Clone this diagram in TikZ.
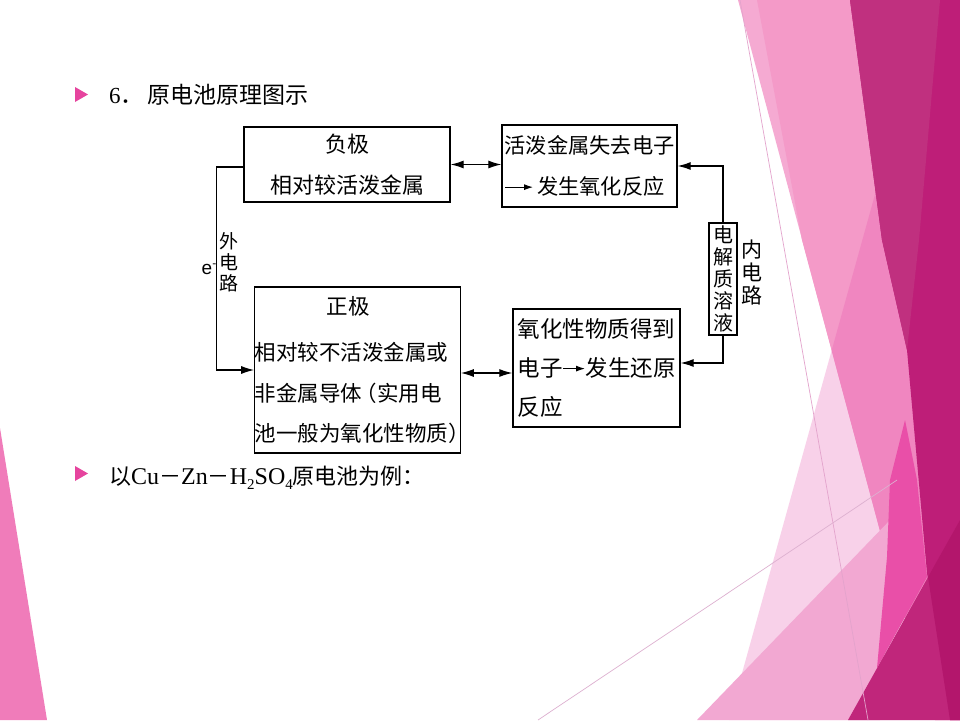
\documentclass[tikz,border=0pt]{standalone}
\usepackage{fontspec}
\setmainfont{Liberation Serif}
\newfontfamily\cjk{Noto Sans CJK SC}
\newfontfamily\lsans{Liberation Sans}
\usetikzlibrary{arrows.meta,calc}
\definecolor{pinklight}{HTML}{F5AAD2}
\definecolor{pinkband}{HTML}{F49AC8}
\definecolor{ovcol}{RGB}{229,80,170}
\definecolor{magA}{HTML}{C0307F}
\definecolor{magB}{HTML}{BE1E78}
\definecolor{hotpink}{HTML}{E94FA8}
\definecolor{triA}{HTML}{F2A8D2}
\definecolor{botA}{HTML}{C0267B}
\definecolor{botB}{HTML}{B3166C}
\definecolor{thinA}{HTML}{DDB0D0}
\definecolor{thinB}{HTML}{E3A3CC}
\definecolor{leftpink}{HTML}{F07CBA}
\definecolor{bullet}{HTML}{E6449E}
\newcommand\inarr[1]{\tikz[baseline=-0.35em]\draw[line width=1pt,-{Latex[length=9pt,width=6pt]}] (0pt,0pt) -- (#1,0pt);}
\newcommand\lpar{\makebox[0.7em][r]{（}}
\newcommand\rpar{\makebox[0.55em][l]{）}}
\begin{document}
\begin{tikzpicture}[x=1pt,y=-1pt,
  box/.style={draw=black,line width=1.3pt,inner sep=0pt,fill=white},
  arr/.style={line width=1.2pt,-{Latex[length=13pt,width=8pt]}},
  darr/.style={line width=1.2pt,{Latex[length=13pt,width=8pt]}-{Latex[length=13pt,width=8pt]}},
  cn/.style={font=\cjk\fontsize{#1}{41pt}\selectfont},
  cn/.default={22pt}
]
\useasboundingbox (0,0) rectangle (960,720);
\fill[white] (0,0) rectangle (960,720);
% background decoration
\fill[pinklight] (738,0) -- (960,0) -- (960,720) -- (935,720) -- (887,557) -- cycle;
\fill[pinkband] (757,0) -- (960,0) -- (960,720) -- (935,720) -- (887,557) -- (802,240) -- cycle;
\fill[ovcol,opacity=0.26] (929,0) -- (960,0) -- (960,720) -- (729,720) -- cycle;
\fill[magB] (850,0) -- (960,0) -- (960,720) -- (950,720) -- (927,573) -- (907,350) -- (882,240) -- cycle;
\fill[magA] (850,0) -- (940,0) -- (919,240) -- (907,350) -- (882,240) -- cycle;
\fill[triA] (697,720) -- (893,517) -- (880,720) -- cycle;
\fill[hotpink] (905,420) -- (917,480) -- (927,577) -- (877,668) -- (887,557) -- (890,480) -- cycle;
\fill[botA] (848,720) -- (960,520) -- (960,720) -- cycle;
\fill[botB] (928,577) -- (960,520) -- (960,720) -- (950,720) -- cycle;
\draw[thinA,line width=0.7pt] (538,720) -- (897,480);
\draw[thinB,line width=0.7pt] (740,0) -- (868,720);
\fill[leftpink] (0,428) -- (47,720) -- (0,720) -- cycle;
% bullets and texts
\fill[bullet] (75,87) -- (88,94.5) -- (75,102) -- cycle;
\fill[bullet] (75,466) -- (88,473.5) -- (75,481) -- cycle;
\node[anchor=base west,inner sep=0pt] (t1) at (109,103.5)
  {\fontsize{23pt}{23pt}\selectfont 6{\cjk．}\hspace{4pt}{\cjk 原电池原理图示}};
\node[anchor=base west,inner sep=0pt] (t2) at (109,484)
  {\fontsize{24pt}{24pt}\selectfont{\cjk\fontsize{22pt}{22pt}\selectfont 以}Cu{\cjk\fontsize{22pt}{22pt}\selectfont －}Zn{\cjk\fontsize{22pt}{22pt}\selectfont －}H\raisebox{-5pt}{\fontsize{15pt}{15pt}\selectfont 2}SO\raisebox{-5pt}{\fontsize{15pt}{15pt}\selectfont 4}{\cjk\fontsize{22pt}{22pt}\selectfont 原电池为例：}};
% boxes
\node[box,cn,minimum width=206pt,minimum height=75pt,align=center] (b1) at (347,164.5)
  {负极\\相对较活泼金属};
\node[box,cn=21.25pt,minimum width=175pt,minimum height=82pt,align=left] (b2) at (589.5,166)
  {活泼金属失去电子\\\inarr{28pt}\,发生氧化反应};
\node[box,font=\cjk\fontsize{21.5pt}{40.5pt}\selectfont,minimum width=205pt,minimum height=166pt,align=left] (b3) at (357.5,370)
  {\hspace*{72pt}正极\\[6pt]相对较不活泼金属或\\非金属导体\lpar 实用电\\池一般为氧化性物质\rpar};
\node[box,font=\cjk\fontsize{22.5pt}{39pt}\selectfont,minimum width=167pt,minimum height=118pt,align=left] (b4) at (596.5,368)
  {氧化性物质得到\\电子\inarr{22pt}发生还原\\反应};
\node[box,font=\cjk\fontsize{20pt}{22pt}\selectfont,minimum width=28pt,minimum height=112pt,align=center] (el) at (723,279)
  {电\\解\\质\\溶\\液};
% labels
\node[inner sep=0pt,align=center,font=\cjk\fontsize{19pt}{21pt}\selectfont] (wl) at (229,262) {外\\电\\路};
\node[inner sep=0pt,font=\lsans\fontsize{19pt}{19pt}\selectfont] (ee) at (209,269) {e\raisebox{7pt}{\fontsize{12pt}{12pt}\selectfont -}};
\node[inner sep=0pt,align=center,font=\cjk\fontsize{21pt}{23pt}\selectfont] (nl) at (752,272) {内\\电\\路};
% connectors
\draw[arr] ([yshift=-2.5pt]b1.west) -- ++(-27,0) |- (b3.west);
\draw[darr] (b1.east) -- (b1.east -| b2.west);
\coordinate (m34) at ([yshift=-3pt]b3.east);
\draw[darr] (m34) -- (m34 -| b4.west);
\draw[arr] (el.north) |- (b2.east);
\coordinate (m4) at ([yshift=5pt]b4.east);
\draw[arr] (el.south) |- (m4);
\end{tikzpicture}
\end{document}
